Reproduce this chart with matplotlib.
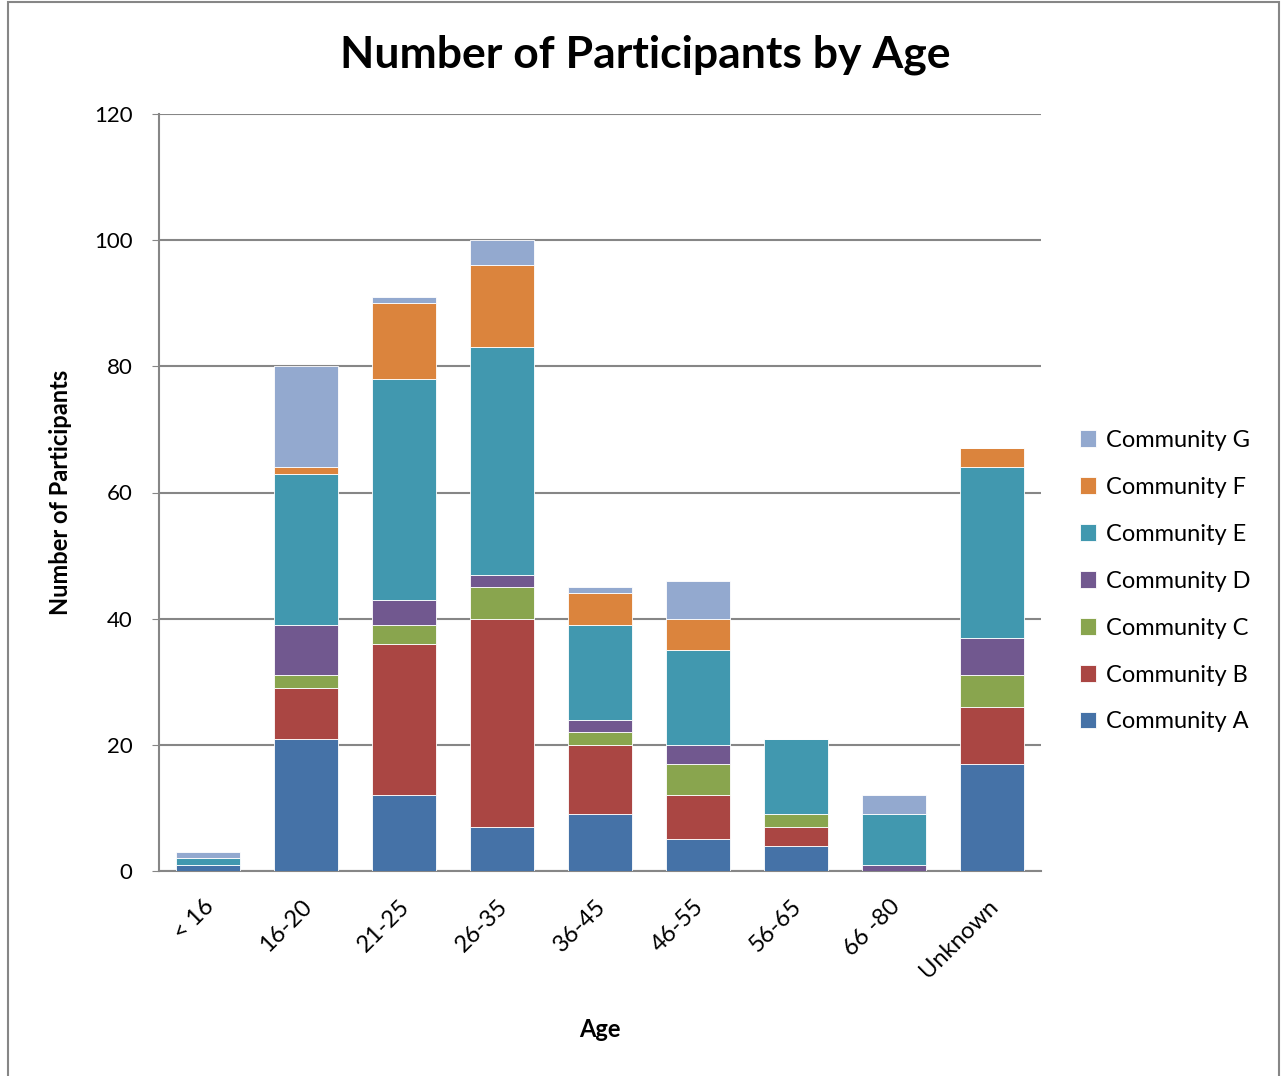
import matplotlib
matplotlib.use("Agg")
import matplotlib.pyplot as plt
import matplotlib.transforms as mtransforms
import numpy as np
from matplotlib.patches import Rectangle

ages = ["< 16", "16-20", "21-25", "26-35", "36-45", "46-55", "56-65", "66 -80", "Unknown"]
community_a = [1, 21, 12, 7, 9, 5, 4, 0, 17]
community_b = [0, 8, 24, 33, 11, 7, 3, 0, 9]
community_c = [0, 2, 3, 5, 2, 5, 2, 0, 5]
community_d = [0, 8, 4, 2, 2, 3, 0, 1, 6]
community_e = [1, 24, 35, 36, 15, 15, 12, 8, 27]
community_f = [0, 1, 12, 13, 5, 5, 0, 0, 3]
community_g = [1, 16, 1, 4, 1, 6, 0, 3, 0]

series = [
    ("Community A", community_a, "#4572A7"),
    ("Community B", community_b, "#AA4643"),
    ("Community C", community_c, "#89A54E"),
    ("Community D", community_d, "#71588F"),
    ("Community E", community_e, "#4198AF"),
    ("Community F", community_f, "#DB843D"),
    ("Community G", community_g, "#93A9CF"),
]

plt.rcParams['font.family'] = ['Lato', 'DejaVu Sans']

fig = plt.figure(figsize=(12.81, 10.76), dpi=100)
ax = fig.add_axes([159 / 1281, 1 - 871 / 1076, (1041 - 159) / 1281, (871 - 114) / 1076])

x = np.arange(len(ages))
bottom = np.zeros(len(ages))
handles = []
for name, vals, color in series:
    bars = ax.bar(x, vals, width=0.65, bottom=bottom, color=color,
                  edgecolor="white", linewidth=0.6, label=name, zorder=3)
    handles.append(bars)
    bottom += np.array(vals)

ax.set_xlim(-0.5, len(ages) - 0.5)
ax.set_ylim(0, 120)
ax.set_yticks(range(0, 121, 20))
ax.yaxis.grid(True, color="#868686", linewidth=1.5, zorder=0)
ax.set_axisbelow(True)
for side in ["top", "right"]:
    ax.spines[side].set_visible(False)
ax.spines["left"].set_color("#868686")
ax.spines["bottom"].set_color("#868686")
ax.spines["left"].set_linewidth(1.5)
ax.spines["bottom"].set_linewidth(1.5)
ax.tick_params(axis="y", length=5, color="#868686", labelsize=16, pad=14)
ax.tick_params(axis="x", length=0, labelsize=17, pad=18)
ax.set_xticks(x)
ax.set_xticklabels(ages, rotation=45, ha="right", rotation_mode="anchor")
shift = mtransforms.ScaledTranslation(-5 / 100, 0, fig.dpi_scale_trans)
for lbl in ax.get_xticklabels():
    lbl.set_transform(lbl.get_transform() + shift)

ax.set_ylabel("Number of Participants", fontsize=17, fontweight="bold", labelpad=16)
ax.set_xlabel("Age", fontsize=17, fontweight="bold", labelpad=26)
fig.text(645 / 1281, 1 - 55 / 1076, "Number of Participants by Age",
         fontsize=32, fontweight="bold", ha="center", va="center")

leg = ax.legend(handles[::-1], [s[0] for s in series][::-1], loc="center left",
                bbox_to_anchor=(1.02, 0.383), frameon=False, fontsize=17,
                handlelength=0.7, handleheight=0.7, labelspacing=1.1, handletextpad=0.4)

fig.patches.append(Rectangle((8 / 1281, -0.01), (1279 - 8) / 1281, 1.0 - 2 / 1076 + 0.01,
                             transform=fig.transFigure, fill=False,
                             edgecolor="#868686", linewidth=1.5))

fig.savefig("out.png", dpi=100)
